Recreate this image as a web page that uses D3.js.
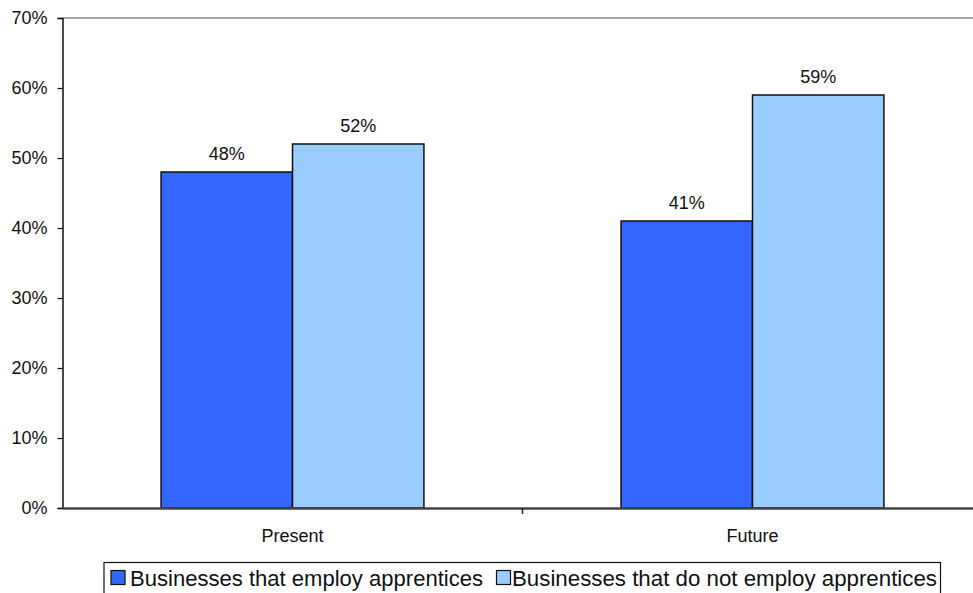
<!DOCTYPE html>
<html>
<head>
<meta charset="utf-8">
<script src="https://cdn.jsdelivr.net/npm/d3@7"></script>
<style>
  html, body { margin: 0; padding: 0; background: #fff; }
  svg { display: block; font-family: "Liberation Sans", Arial, sans-serif; }
</style>
</head>
<body>
<svg id="chart" width="973" height="593"></svg>
<script>
// Share of businesses, by apprenticeship status
const categories = ["Present", "Future"];
const seriesNames = ["Businesses that employ apprentices", "Businesses that do not employ apprentices"];
const employValues = [48, 41];
const notEmployValues = [52, 59];
const yTicks = [0, 10, 20, 30, 40, 50, 60, 70];
const colors = ["#3366FF", "#99CCFF"];

const seriesValues = [employValues, notEmployValues];
const rows = categories.map((c, i) => ({
  category: c,
  values: seriesNames.map((s, j) => ({ series: s, value: seriesValues[j][i], idx: j }))
}));

const svg = d3.select("#chart");
const plot = { left: 62.5, right: 982.5, top: 18, bottom: 508 };

const x0 = d3.scaleBand().domain(categories).range([plot.left, plot.right]).paddingInner(0).paddingOuter(0);
const x1 = d3.scaleBand().domain(seriesNames).range([0, x0.bandwidth()]).paddingInner(0).paddingOuter(0.75);
const y = d3.scaleLinear().domain([0, 70]).range([plot.bottom, plot.top]);

// top border of the plot area
svg.append("line")
  .attr("x1", plot.left).attr("x2", plot.right)
  .attr("y1", y(70)).attr("y2", y(70))
  .attr("stroke", "#8a8a8a").attr("stroke-width", 1.5);

// bars
const groups = svg.append("g").selectAll("g").data(rows).join("g")
  .attr("transform", d => `translate(${x0(d.category)},0)`);

groups.selectAll("rect").data(d => d.values).join("rect")
  .attr("x", d => x1(d.series))
  .attr("y", d => y(d.value))
  .attr("width", x1.bandwidth())
  .attr("height", d => y(0) - y(d.value))
  .attr("fill", d => colors[d.idx])
  .attr("stroke", "#111")
  .attr("stroke-width", 1.5);

groups.selectAll("text").data(d => d.values).join("text")
  .attr("x", d => x1(d.series) + x1.bandwidth() / 2)
  .attr("y", d => y(d.value) - 12)
  .attr("text-anchor", "middle")
  .attr("font-size", 18)
  .attr("fill", "#111")
  .text(d => d.value + "%");

// y axis
const yAxis = d3.axisLeft(y).tickValues(yTicks).tickFormat(d => d + "%").tickSize(5).tickPadding(10);
const gy = svg.append("g").attr("transform", `translate(${plot.left},0)`).call(yAxis);
gy.select(".domain").attr("stroke", "#111").attr("stroke-width", 1.5);
gy.selectAll(".tick line").attr("stroke", "#111").attr("stroke-width", 1.2);
gy.selectAll(".tick text").attr("font-size", 18).attr("fill", "#111")
  .attr("font-family", "Liberation Sans, Arial, sans-serif");

// x axis
const xAxis = d3.axisBottom(x0).tickSize(0).tickPadding(0).tickFormat("");
const gx = svg.append("g").attr("transform", `translate(0,${plot.bottom})`).call(xAxis);
gx.select(".domain").attr("stroke", "#444").attr("stroke-width", 2.5);
gx.selectAll(".tick").remove();

// category dividers
svg.append("g").selectAll("line").data(categories.slice(1)).join("line")
  .attr("x1", d => x0(d)).attr("x2", d => x0(d))
  .attr("y1", plot.bottom).attr("y2", plot.bottom + 6)
  .attr("stroke", "#222").attr("stroke-width", 1.5);

// category labels
svg.append("g").selectAll("text").data(categories).join("text")
  .attr("x", d => x0(d) + x0.bandwidth() / 2)
  .attr("y", 541.5)
  .attr("text-anchor", "middle")
  .attr("font-size", 18)
  .attr("fill", "#111")
  .text(d => d);

// legend
const legend = svg.append("g");
legend.append("rect")
  .attr("x", 104).attr("y", 562.5).attr("width", 836.5).attr("height", 40)
  .attr("fill", "#fff").attr("stroke", "#111").attr("stroke-width", 1.2);

const legendItems = [
  { name: seriesNames[0], color: colors[0], sx: 111, tx: 130, w: 353 },
  { name: seriesNames[1], color: colors[1], sx: 496.5, tx: 512, w: 425 }
];
const li = legend.selectAll("g.item").data(legendItems).join("g").attr("class", "item");
li.append("rect")
  .attr("x", d => d.sx).attr("y", 570.5)
  .attr("width", 14).attr("height", 14)
  .attr("fill", d => d.color).attr("stroke", "#111").attr("stroke-width", 1.2);
li.append("text")
  .attr("x", d => d.tx).attr("y", 585.5)
  .attr("font-size", 22)
  .attr("textLength", d => d.w)
  .attr("lengthAdjust", "spacingAndGlyphs")
  .attr("fill", "#111")
  .text(d => d.name);
</script>
</body>
</html>
